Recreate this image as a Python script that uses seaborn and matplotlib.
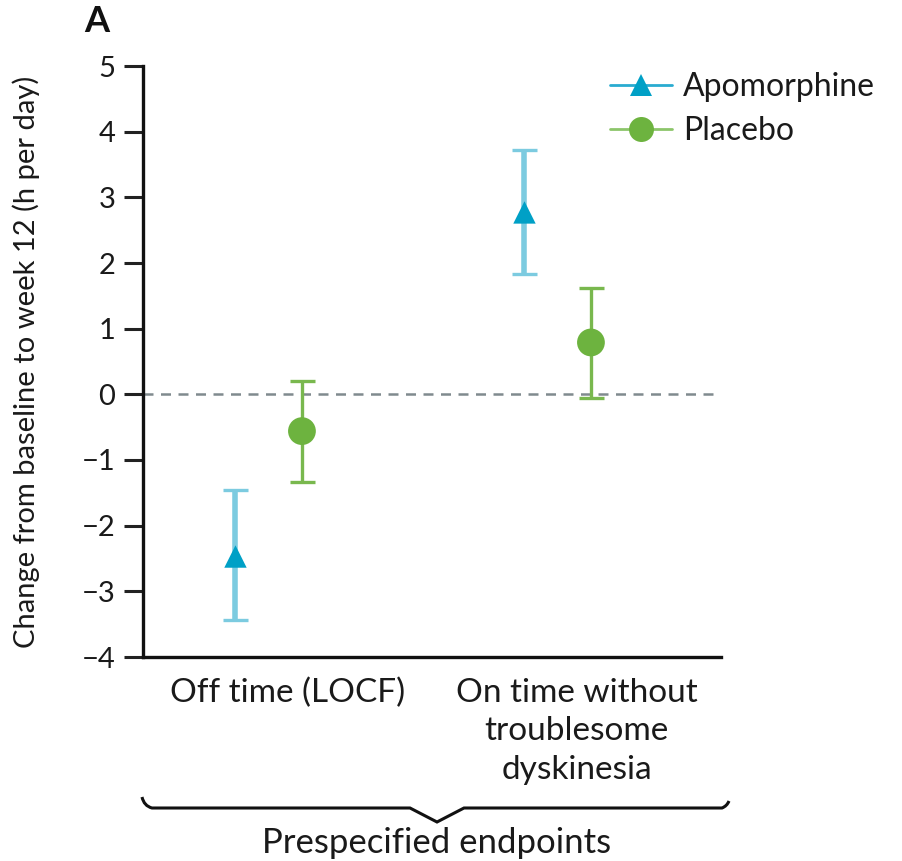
import numpy as np
import pandas as pd
import seaborn as sns
import matplotlib
matplotlib.use("Agg")
import matplotlib.pyplot as plt
from matplotlib.lines import Line2D
from matplotlib.path import Path
from matplotlib.patches import PathPatch

# ---- data ----
endpoints = ["Off time (LOCF)", "On time without\ntroublesome\ndyskinesia"]
groups = ["Apomorphine", "Placebo"]
apo_mean = [-2.47, 2.77]
apo_low = [-3.44, 1.83]
apo_high = [-1.45, 3.72]
plc_mean = [-0.56, 0.79]
plc_low = [-1.33, -0.05]
plc_high = [0.20, 1.62]
yticks = [-4, -3, -2, -1, 0, 1, 2, 3, 4, 5]
ylabel = "Change from baseline to week 12 (h per day)"
group_label = "Prespecified endpoints"

sns.set_theme(style="white")
plt.rcParams['font.family'] = ['Lato', 'DejaVu Sans']
plt.rcParams['axes.unicode_minus'] = True

W, H = 903, 861
fig = plt.figure(figsize=(W / 100, H / 100), dpi=100)
ax = fig.add_axes([143 / W, (H - 657) / H, (721 - 143) / W, (657 - 66) / H])

apo_c = "#00a0c6"
apo_e = "#7ccbe0"
plc_c = "#6db33f"
plc_e = "#79b84e"
txt = "#1a1a1a"

offsets = {"Apomorphine": -0.18, "Placebo": 0.05}
rows = []
for i, ep in enumerate(endpoints):
    rows.append(dict(endpoint=ep, group="Apomorphine", x=i + offsets["Apomorphine"],
                     mean=apo_mean[i], low=apo_low[i], high=apo_high[i]))
    rows.append(dict(endpoint=ep, group="Placebo", x=i + offsets["Placebo"],
                     mean=plc_mean[i], low=plc_low[i], high=plc_high[i]))
df = pd.DataFrame(rows)

ax.axhline(0, color="#808a8e", lw=1.8, ls=(0, (4, 3)), zorder=1, xmin=0, xmax=0.99)

for g, col, ecol, elw in [("Apomorphine", apo_c, apo_e, 4.0), ("Placebo", plc_c, plc_e, 2.4)]:
    d = df[df.group == g]
    ax.errorbar(d["x"], d["mean"], yerr=[d["mean"] - d["low"], d["high"] - d["mean"]],
                fmt="none", ecolor=ecol, elinewidth=elw, capsize=9, capthick=2.4, zorder=2)

sns.scatterplot(data=df, x="x", y="mean", hue="group", style="group",
                markers={"Apomorphine": "^", "Placebo": "o"},
                palette={"Apomorphine": apo_c, "Placebo": plc_c},
                s=300, linewidth=0, ax=ax, legend=False, zorder=3)
coll = ax.collections[-1]
coll.set_sizes(np.where(df["group"] == "Apomorphine", 260, 400))

ax.set_xlim(-0.5, 1.5)
ax.set_ylim(-4, 5)
ax.set_yticks(yticks)
ax.set_yticklabels([str(v).replace("-", "\u2212") for v in yticks])
ax.set_xticks([0, 1])
ax.set_xticklabels(endpoints, fontsize=24, linespacing=1.35, color=txt)
ax.set_xticks([-0.5, 0.5], minor=True)
ax.tick_params(axis="x", which="major", length=0, pad=15)
ax.tick_params(axis="x", which="minor", length=13, width=2.2, color="#222222")
ax.tick_params(axis="y", length=14, width=2.2, color="#222222", pad=6,
               labelsize=21, labelcolor=txt, left=True)
ax.set_xlabel("")
ax.set_ylabel(ylabel, fontsize=21, color=txt, labelpad=30)
sns.despine(ax=ax)
for s in ["left", "bottom"]:
    ax.spines[s].set_linewidth(2.4)
    ax.spines[s].set_color("#111111")

handles = [
    Line2D([], [], color="#29abd0", lw=2, marker="^", markersize=16,
           markerfacecolor=apo_c, markeredgewidth=0),
    Line2D([], [], color="#8cc56a", lw=2, marker="o", markersize=18,
           markerfacecolor=plc_c, markeredgewidth=0),
]
ax.legend(handles, groups, loc="upper left", bbox_to_anchor=((597 - 143) / (721 - 143), 1.012),
          frameon=False, fontsize=23, handlelength=1.95, handletextpad=0.35,
          labelspacing=0.44, borderaxespad=0, labelcolor=txt)

# brace under the categories
def fx(px):
    return px / W
def fy(py):
    return 1 - py / H
verts = [
    (fx(142), fy(797)), (fx(144), fy(806)), (fx(152), fy(808)),
    (fx(410), fy(808)), (fx(437), fy(822)), (fx(464), fy(808)),
    (fx(722), fy(808)), (fx(727), fy(806)), (fx(729), fy(801)),
]
codes = [Path.MOVETO, Path.CURVE3, Path.CURVE3, Path.LINETO, Path.LINETO,
         Path.LINETO, Path.LINETO, Path.CURVE3, Path.CURVE3]
fig.patches.append(PathPatch(Path(verts, codes), transform=fig.transFigure,
                             fill=False, lw=2.2, color="#111111"))
fig.text(fx(437), fy(843), group_label, ha="center", va="center", fontsize=25, color=txt)
fig.text(fx(97), fy(22), "A", ha="center", va="center", fontsize=26, fontweight="bold", color="#111111")

fig.savefig("out.png", dpi=100)
